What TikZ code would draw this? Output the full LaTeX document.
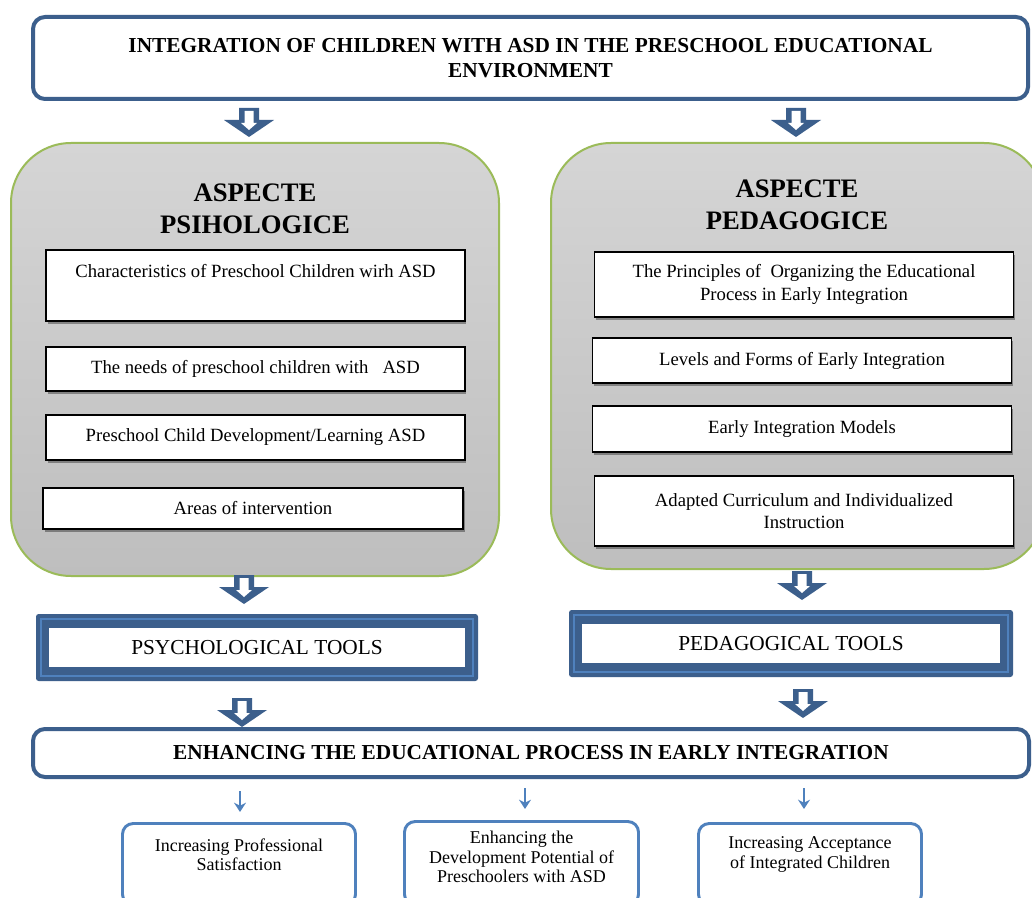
\documentclass[tikz,border=0pt]{standalone}
\usepackage{fontspec}
\setmainfont{Liberation Serif}
\usetikzlibrary{shadows,calc,arrows.meta}
\definecolor{dblue}{HTML}{3C5F8C}
\definecolor{lblue}{HTML}{4F81BD}
\definecolor{agreen}{HTML}{9BBB59}
\definecolor{gtop}{HTML}{D5D5D5}
\definecolor{gbot}{HTML}{BEBEBE}
\tikzset{
  titlebox/.style={draw=dblue, line width=3pt, rounded corners=9pt, fill=white, align=center,
    font=\fontsize{16}{18.75}\selectfont\bfseries, inner sep=0pt},
  graybox/.style={draw=agreen, line width=1.5pt, rounded corners=45pt, top color=gtop, bottom color=gbot, inner sep=0pt},
  headtext/.style={align=center, font=\fontsize{20}{24}\selectfont\bfseries, inner sep=0pt},
  itembox/.style={draw=black, line width=1.2pt, fill=white, align=center,
    drop shadow={shadow xshift=1.2pt, shadow yshift=-2.2pt, opacity=.35, fill=black},
    font=\fontsize{14}{16.8}\selectfont, inner sep=0pt},
  toolframe/.style={fill=dblue, rounded corners=2pt, inner sep=0pt},
  toolinner/.style={draw=dblue, line width=0.8pt, fill=white, inner sep=0pt,
    font=\fontsize{16}{19}\selectfont},
  resultbox/.style={draw=lblue, line width=2.2pt, rounded corners=8pt, fill=white, inner sep=0pt},
  resulttext/.style={align=center, font=\fontsize{13.5}{14.5}\selectfont, inner sep=0pt},
  thinarr/.style={draw=lblue, line width=1.5pt, -{Stealth[length=7pt,width=9pt]}},
  blockarrow/.pic={
    \fill[dblue] (-10,0) -- (10,0) -- (10,12) -- (25,12) -- (0,29) -- (-25,12) -- (-10,12) -- cycle;
    \fill[white] (-4.5,3) -- (4.5,3) -- (4.5,15) -- (8,15) -- (0,22) -- (-8,15) -- (-4.5,15) -- cycle;
  }
}
\begin{document}
\begin{tikzpicture}[x=0.75pt,y=-0.75pt]
\clip (0,0) rectangle (1032,898);
\fill[white] (0,0) rectangle (1032,898);

% top title
\node[titlebox, minimum width=746.25pt, minimum height=61.5pt] (top) at (530.5,58)
  {INTEGRATION OF CHILDREN WITH ASD IN THE PRESCHOOL EDUCATIONAL\\ENVIRONMENT};

% block arrows from title
\pic at (249,108) {blockarrow};
\pic at (796,108) {blockarrow};

% gray panels
\node[graybox, minimum width=366pt, minimum height=324.75pt] (psy) at (255,359.5) {};
\node[graybox, minimum width=369.75pt, minimum height=319.5pt] (ped) at (797.5,356) {};

\node[headtext] (psyh) at (255,209) {ASPECTE\\PSIHOLOGICE};
\node[headtext] (pedh) at (797,205) {ASPECTE\\PEDAGOGICE};

% left items
\node[itembox, minimum width=314pt, minimum height=53.3pt] (b1) at (255.5,285.5)
  {Characteristics of Preschool Children wirh ASD\\\strut};
\node[itembox, minimum width=314pt, minimum height=33pt] (b2) at (255.5,369)
  {The needs of preschool children with\ \ \ ASD};
\node[itembox, minimum width=314pt, minimum height=33.8pt] (b3) at (255.5,437.5)
  {Preschool Child Development/Learning ASD};
\node[itembox, minimum width=315pt, minimum height=30.8pt] (b4) at (253,508.5)
  {Areas of intervention};

% right items
\node[itembox, minimum width=314.5pt, minimum height=48.8pt] (c1) at (804,284.5)
  {The Principles of\ \ Organizing the Educational\\Process in Early Integration};
\node[itembox, minimum width=314.5pt, minimum height=33.8pt] (c2) at (802,360.5)
  {Levels and Forms of Early Integration};
\node[itembox, minimum width=314.5pt, minimum height=34.5pt] (c3) at (802,429)
  {Early Integration Models};
\node[itembox, minimum width=314.5pt, minimum height=52.5pt] (c4) at (804,511)
  {Adapted Curriculum and Individualized\\Instruction};

% arrows to tools
\pic at (244,575) {blockarrow};
\pic at (802,571) {blockarrow};

% tools frames
\node[toolframe, minimum width=331.5pt, minimum height=50.25pt] (pt1f) at (257,647.5) {};
\draw[lblue, line width=1.3pt] ($(pt1f.north west)+(5.5,5.5)$) rectangle ($(pt1f.south east)+(-5.5,-5.5)$);
\node[toolinner, minimum width=313.5pt, minimum height=30.75pt] (pt1) at (pt1f.center) {PSYCHOLOGICAL TOOLS};

\node[toolframe, minimum width=333pt, minimum height=50.25pt] (pt2f) at (791,643.5) {};
\draw[lblue, line width=1.3pt] ($(pt2f.north west)+(5.5,5.5)$) rectangle ($(pt2f.south east)+(-5.5,-5.5)$);
\node[toolinner, minimum width=314pt, minimum height=30.75pt] (pt2) at (pt2f.center) {PEDAGOGICAL TOOLS};

% arrows to enhancing box
\pic at (242,698) {blockarrow};
\pic at (803,689) {blockarrow};

% enhancing box
\node[titlebox, minimum width=747pt, minimum height=36pt] (enh) at (531,753)
  {ENHANCING THE EDUCATIONAL PROCESS IN EARLY INTEGRATION};

% result boxes
\node[resultbox, minimum width=174.75pt, minimum height=61.1pt] (r1) at (239,864.25) {};
\node[resultbox, minimum width=175.5pt, minimum height=62.6pt] (r2) at (521.5,863.25) {};
\node[resultbox, minimum width=167.25pt, minimum height=61.1pt] (r3) at (810,864.25) {};
\node[resulttext] (r1t) at (239,854.5) {Increasing Professional\\Satisfaction};
\node[resulttext] (r2t) at (521.5,857) {Enhancing the\\Development Potential of\\Preschoolers with ASD};
\node[resulttext] (r3t) at (810,854.5) {Increasing Acceptance\\of Integrated Children};

% thin arrows
\coordinate (s1) at (240,791);
\coordinate (e1) at (240,812);
\coordinate (s2) at (525,788);
\coordinate (e2) at (525,809);
\coordinate (s3) at (804,788);
\coordinate (e3) at (804,809);
\draw[thinarr] (s1) -- (e1);
\draw[thinarr] (s2) -- (e2);
\draw[thinarr] (s3) -- (e3);
\end{tikzpicture}
\end{document}
